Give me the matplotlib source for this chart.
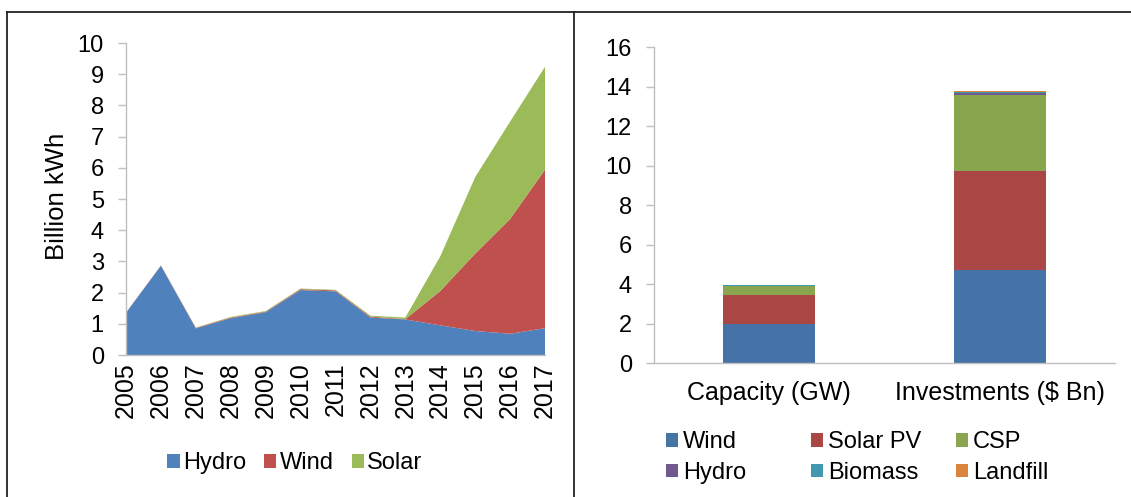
import numpy as np
import matplotlib
matplotlib.use("Agg")
from matplotlib import pyplot as plt
from matplotlib.patches import Patch
from matplotlib.lines import Line2D

plt.rcParams['font.family'] = ['Liberation Sans', 'DejaVu Sans']

# left chart: generation by source (billion kWh)
years = [2005, 2006, 2007, 2008, 2009, 2010, 2011, 2012, 2013, 2014, 2015, 2016, 2017]
hydro = [1.35, 2.86, 0.85, 1.18, 1.37, 2.08, 2.04, 1.20, 1.14, 0.95, 0.77, 0.68, 0.86]
wind = [0.01, 0.01, 0.02, 0.02, 0.02, 0.03, 0.03, 0.03, 0.01, 1.10, 2.48, 3.68, 5.08]
solar = [0.00, 0.00, 0.01, 0.02, 0.02, 0.02, 0.02, 0.03, 0.05, 1.11, 2.45, 3.12, 3.30]
area_names = ["Hydro", "Wind", "Solar"]
area_colors = ["#4F81BD", "#C0504D", "#9BBB59"]

# right chart: capacity and investment by technology
categories = ["Capacity (GW)", "Investments ($ Bn)"]
techs = ["Wind", "Solar PV", "CSP", "Hydro", "Biomass", "Landfill"]
wind_bar = [2.00, 4.71]
pv_bar = [1.47, 5.04]
csp_bar = [0.43, 3.83]
hydro_bar = [0.02, 0.08]
biomass_bar = [0.01, 0.07]
landfill_bar = [0.02, 0.08]
bar_colors = ["#4572A7", "#AA4643", "#89A54E", "#71588F", "#4198AF", "#DB843D"]

W, H = 1131, 497
FS_TICK = 17
FS_CAT = 18
FS_LEG = 17
GRAY = "#BFBFBF"

fig = plt.figure(figsize=(W / 100, H / 100), dpi=100)

def fx(px):
    return px / W

def fy(py):
    return 1 - py / H

# frame lines around the two panels
for xs, ys in [([7, 1131], [12, 12]), ([7, 7], [12, 497]), ([574, 574], [12, 497])]:
    fig.add_artist(Line2D([fx(x) for x in xs], [fy(y) for y in ys], color="#222222", lw=1.3))

def style_axes(ax):
    for s in ["top", "right"]:
        ax.spines[s].set_visible(False)
    for s in ["left", "bottom"]:
        ax.spines[s].set_color(GRAY)
        ax.spines[s].set_linewidth(1.0)
    ax.tick_params(axis="y", colors=GRAY, labelcolor="black", length=5.5, width=1.0,
                   labelsize=FS_TICK, pad=10.5)
    ax.tick_params(axis="x", length=0, labelsize=FS_CAT, labelcolor="black")

# ---- left: stacked area
ax1 = fig.add_axes([fx(126), fy(355), fx(545 - 126), (355 - 43) / H])
ax1.stackplot(years, hydro, wind, solar, colors=area_colors, lw=0)
ax1.set_xlim(years[0], years[-1])
ax1.set_ylim(0, 10)
ax1.set_yticks(range(0, 11))
ax1.set_xticks(years)
ax1.set_xticklabels([str(y) for y in years], rotation=90)
style_axes(ax1)
ax1.tick_params(axis="x", pad=5)
fig.text(fx(57), fy(196), "Billion kWh", rotation=90, ha="center", va="center", fontsize=18.5)

h1 = [Patch(facecolor=c, edgecolor="none") for c in area_colors]
fig.legend(h1, area_names, loc="center", bbox_to_anchor=(fx(295), fy(463)), ncol=3,
           frameon=False, fontsize=FS_LEG, handlelength=0.52, handleheight=0.52,
           handletextpad=0.15, columnspacing=0.75, borderpad=0, borderaxespad=0)

# ---- right: stacked bars
ax2 = fig.add_axes([fx(654), fy(363), fx(1115 - 654), (363 - 47.3) / H])
x = np.arange(len(categories))
bottom = np.zeros(len(categories))
for vals, c in zip([wind_bar, pv_bar, csp_bar, hydro_bar, biomass_bar, landfill_bar], bar_colors):
    ax2.bar(x, vals, 0.4, bottom=bottom, color=c, edgecolor="none")
    bottom += np.array(vals)
ax2.set_xlim(-0.5, 1.5)
ax2.set_ylim(0, 16)
ax2.set_yticks(range(0, 17, 2))
ax2.set_xticks(x)
ax2.set_xticklabels(categories)
style_axes(ax2)
ax2.tick_params(axis="x", pad=13)

h2 = [Patch(facecolor=c, edgecolor="none") for c in bar_colors]
col_x = [666, 811, 956]
for i, cx in enumerate(col_x):
    fig.legend([h2[i], h2[i + 3]], [techs[i], techs[i + 3]], loc="center left",
               bbox_to_anchor=(fx(cx), fy(457.5)), ncol=1, frameon=False, fontsize=FS_LEG,
               handlelength=0.52, handleheight=0.52, handletextpad=0.2,
               labelspacing=0.38, borderpad=0, borderaxespad=0)

fig.savefig("out.png", dpi=100)
